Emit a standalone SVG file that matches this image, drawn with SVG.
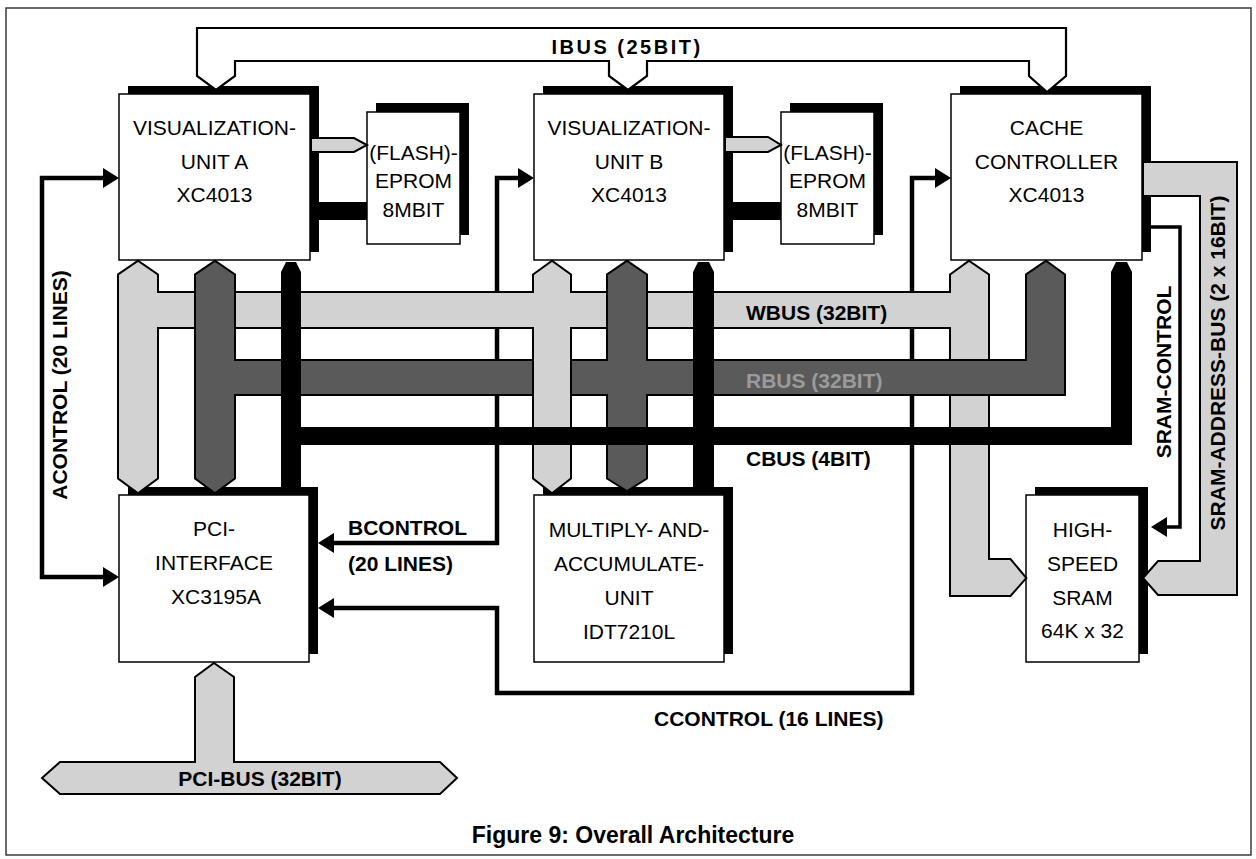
<svg xmlns="http://www.w3.org/2000/svg" width="1256" height="859" viewBox="0 0 1256 859">
<style>
.frame{fill:#fff;stroke:#3a3a3a;stroke-width:1.5}
.shadow{fill:#000}
.box{fill:#fff;stroke:#000;stroke-width:1.5}
.nt{font-family:"Liberation Sans",Arial,Helvetica,sans-serif;font-size:21px;text-anchor:middle;fill:#000}
.lbl{font-family:"Liberation Sans",Arial,Helvetica,sans-serif;font-size:21px;font-weight:bold;fill:#000}
.mid{text-anchor:middle}
.ctl{fill:none;stroke:#000;stroke-width:4.5;stroke-linejoin:miter}
.ctl-thin{fill:none;stroke:#000;stroke-width:3.5;stroke-linejoin:miter}
.ol{fill:none;stroke:#000;stroke-width:4;stroke-linejoin:miter}
.light{fill:#d2d2d2}
.dark{fill:#5a5a5a}
.lightbus{fill:#d2d2d2;stroke:#000;stroke-width:2;stroke-linejoin:miter}
.ibus{fill:#fff;stroke:#000;stroke-width:2.2;stroke-linejoin:miter}
</style>
<defs>
<marker id="arr" markerWidth="16" markerHeight="20" refX="12" refY="10" orient="auto" markerUnits="userSpaceOnUse"><path d="M0,0 L16,10 L0,20 Z" fill="#000"/></marker>
<marker id="arrs" markerWidth="16" markerHeight="20" refX="12" refY="10" orient="auto-start-reverse" markerUnits="userSpaceOnUse"><path d="M0,0 L16,10 L0,20 Z" fill="#000"/></marker>
<path id="wbus" d="M119,275 L138,262 L157,275 L157,478 L138,492 L119,478 Z M150,293 H960 V327 H150 Z M951,275 L969,262 L988,275 V560 H1010 L1025,578 L1010,595 H951 Z"/>
<path id="wbusb" d="M534,275 L552,262 L570,275 L570,478 L552,492 L534,478 Z"/>
<path id="rbus" d="M196,275 L215,262 L234,275 V478 L215,492 L196,478 Z M225,361 H1064 V394 H225 Z M608,275 L627,262 L646,275 V478 L627,490 L608,478 Z M1027,275 L1046,262 L1064,275 V394 H1027 Z"/>
</defs>
<rect width="1256" height="859" fill="#fff"/>
<rect class="frame" x="6" y="8" width="1245" height="847"/>

<g id="node-vis-a">
<rect class="shadow" x="128" y="86" width="191" height="166"/>
<rect class="box" x="119" y="94" width="191" height="166"/>
<text class="nt" x="214.5" y="135">VISUALIZATION-</text>
<text class="nt" x="214.5" y="169">UNIT A</text>
<text class="nt" x="214.5" y="202">XC4013</text>
</g>
<g id="node-flash-a">
<rect class="shadow" x="376" y="103" width="93" height="132"/>
<rect class="box" x="367" y="112" width="93" height="132"/>
<text class="nt" x="413.5" y="160">(FLASH)-</text>
<text class="nt" x="413.5" y="188">EPROM</text>
<text class="nt" x="413.5" y="217">8MBIT</text>
</g>
<g id="node-vis-b">
<rect class="shadow" x="543" y="86" width="190" height="166"/>
<rect class="box" x="534" y="94" width="190" height="166"/>
<text class="nt" x="629" y="135">VISUALIZATION-</text>
<text class="nt" x="629" y="169">UNIT B</text>
<text class="nt" x="629" y="202">XC4013</text>
</g>
<g id="node-flash-b">
<rect class="shadow" x="790" y="103" width="93" height="132"/>
<rect class="box" x="781" y="112" width="93" height="132"/>
<text class="nt" x="827.5" y="160">(FLASH)-</text>
<text class="nt" x="827.5" y="188">EPROM</text>
<text class="nt" x="827.5" y="217">8MBIT</text>
</g>
<g id="node-cache">
<rect class="shadow" x="960" y="86" width="191" height="166"/>
<rect class="box" x="951" y="94" width="191" height="166"/>
<text class="nt" x="1046.5" y="135">CACHE</text>
<text class="nt" x="1046.5" y="169">CONTROLLER</text>
<text class="nt" x="1046.5" y="202">XC4013</text>
</g>
<g id="node-pci">
<rect class="shadow" x="128" y="487" width="190" height="167"/>
<rect class="box" x="119" y="495" width="190" height="167"/>
<text class="nt" x="214" y="536">PCI-</text>
<text class="nt" x="214" y="570">INTERFACE</text>
<text class="nt" x="216" y="604">XC3195A</text>
</g>
<g id="node-mac">
<rect class="shadow" x="543" y="487" width="190" height="167"/>
<rect class="box" x="534" y="495" width="190" height="167"/>
<text class="nt" x="629" y="537">MULTIPLY- AND-</text>
<text class="nt" x="629" y="571">ACCUMULATE-</text>
<text class="nt" x="629" y="605">UNIT</text>
<text class="nt" x="629" y="639">IDT7210L</text>
</g>
<g id="node-sram">
<rect class="shadow" x="1035" y="487" width="113" height="167"/>
<rect class="box" x="1026" y="495" width="113" height="167"/>
<text class="nt" x="1082.5" y="537">HIGH-</text>
<text class="nt" x="1082.5" y="571">SPEED</text>
<text class="nt" x="1082.5" y="605">SRAM</text>
<text class="nt" x="1082.5" y="638">64K x 32</text>
</g>

<g id="connectors">
<!-- control lines -->
<polyline class="ctl" points="115,178 42,178 42,577 115,577" marker-start="url(#arrs)" marker-end="url(#arr)"/>
<polyline class="ctl" points="322,543 497,543 497,178 530,178" marker-start="url(#arrs)" marker-end="url(#arr)"/>
<polyline class="ctl" points="322,608 497,608 497,693 912,693 912,178 947,178" marker-start="url(#arrs)" marker-end="url(#arr)"/>
<polyline class="ctl-thin" points="1143,227 1180,227 1180,527 1155,527" marker-end="url(#arr)"/>

<!-- IBUS -->
<path class="ibus" d="M197,76 V28 H1066 V76 L1047,92 L1029,76 V61 H647 V76 L628,90 L609,76 V61 H235 V76 L216,90 Z"/>

<!-- flash links -->
<path class="lightbus" d="M311,138 H354 L367,145 L354,152 H311 Z"/>
<rect x="319" y="202" width="48" height="18" fill="#000"/>
<path class="lightbus" d="M725,137 H768 L781,145 L768,152 H725 Z"/>
<rect x="733" y="202" width="48" height="18" fill="#000"/>

<!-- WBUS -->
<use href="#wbus" class="ol"/>
<use href="#wbus" class="light"/>
<!-- RBUS -->
<use href="#rbus" class="ol"/>
<use href="#rbus" class="dark"/>
<!-- WBUS branch under unit B -->
<use href="#wbusb" class="ol"/>
<use href="#wbusb" class="light"/>
<rect x="531" y="293" width="42" height="34" class="light"/>
<!-- CBUS -->
<path fill="#000" d="M281,272 L286,262 L296,262 L301,272 V488 H281 Z M281,427 H1132 V445 H281 Z M693,272 L698,262 L709,262 L714,272 V488 H693 Z M1111,272 L1116,262 L1127,262 L1132,272 V445 H1111 Z"/>

<!-- SRAM address bus -->
<path class="lightbus" d="M1143,162 H1237 V595 H1158 L1143,578 L1158,561 H1200 V196 H1143 Z"/>
<!-- PCI bus -->
<path class="lightbus" d="M214,663 L234,677 V762 H440 L457,778 L440,794 H60 L42,778 L60,762 H195 V677 Z"/>
</g>

<g id="labels">
<text class="lbl mid" x="627" y="54" style="font-size:20px;letter-spacing:2.5px">IBUS (25BIT)</text>
<text class="lbl" x="746" y="320">WBUS (32BIT)</text>
<text class="lbl" x="746" y="388" style="fill:#9a9a9a">RBUS (32BIT)</text>
<text class="lbl" x="746" y="466">CBUS (4BIT)</text>
<text class="lbl" x="348" y="535">BCONTROL</text>
<text class="lbl" x="348" y="571">(20 LINES)</text>
<text class="lbl" x="654" y="726">CCONTROL (16 LINES)</text>
<text class="lbl mid" x="260" y="786">PCI-BUS (32BIT)</text>
<text class="lbl mid" transform="translate(67,385) rotate(-90)">ACONTROL (20 LINES)</text>
<text class="lbl mid" transform="translate(1170.5,372) rotate(-90)">SRAM-CONTROL</text>
<text class="lbl mid" transform="translate(1225,363) rotate(-90)">SRAM-ADDRESS-BUS (2 x 16BIT)</text>
<text class="lbl mid" x="633" y="843" style="font-size:23px">Figure 9: Overall Architecture</text>
</g>
</svg>
